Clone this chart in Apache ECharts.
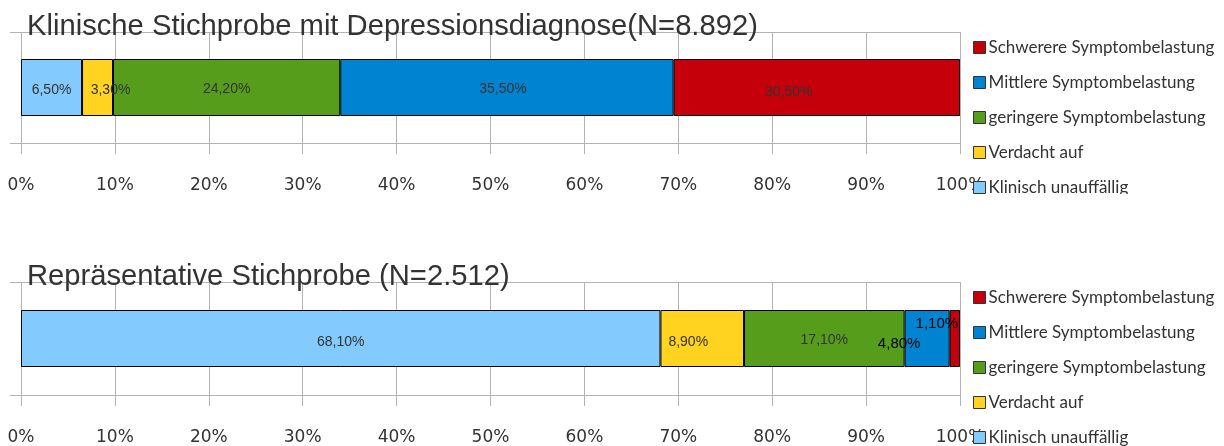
<!DOCTYPE html>
<html>
<head>
<meta charset="utf-8">
<script src="https://cdn.jsdelivr.net/npm/echarts@6/dist/echarts.min.js"></script>
<style>
  body { margin: 0; background: #fff; }
  #oben { position: absolute; left: 0; top: 0; width: 1224px; height: 194px; }
  #unten { position: absolute; left: 0; top: 250px; width: 1224px; height: 196px; }
</style>
</head>
<body>
<div id="oben"></div>
<div id="unten"></div>
<script>
// Kategorien (Reihenfolge im Balken von links nach rechts)
var kategorien = ['Klinisch unauffällig', 'Verdacht auf', 'geringere Symptombelastung', 'Mittlere Symptombelastung', 'Schwerere Symptombelastung'];
var farben = ['#83caff', '#ffd320', '#579d1c', '#0084d1', '#c5000b'];
// Werte in Prozent
var klinischWerte = [6.5, 3.3, 24.2, 35.5, 30.5];
var repraesentativWerte = [68.1, 8.9, 17.1, 4.8, 1.1];
var titelOben = 'Klinische Stichprobe mit Depressionsdiagnose(N=8.892)';
var titelUnten = 'Repräsentative Stichprobe (N=2.512)';

// kleine Verschiebungen der Beschriftungen wie im Original
var labelOben = [
  {offset: [0, 3]}, {offset: [13, 3]}, {offset: [0, 2]}, {offset: [-4, 2]}, {offset: [-28, 5]}
];
var labelUnten = [
  {offset: [0, 4]}, {offset: [-14, 4]}, {offset: [0, 2]}, {offset: [-28, 5], color: '#000', fontSize: 15}, {offset: [-18, -15], color: '#000', fontSize: 15}
];

function fmt(v) {
  return v.toFixed(2).replace('.', ',') + '%';
}

function baueOption(titel, werte, labelExtra) {
  var series = kategorien.map(function (name, i) {
    return {
      name: name,
      type: 'bar',
      stack: 'gesamt',
      barWidth: 57,
      data: [werte[i]],
      itemStyle: { color: farben[i], borderColor: '#000', borderWidth: 1 },
      label: Object.assign({
        show: true,
        position: 'inside',
        fontFamily: 'Liberation Sans',
        fontSize: 14,
        color: '#333',
        formatter: function (p) { return fmt(p.value); }
      }, labelExtra[i])
    };
  });
  return {
    animation: false,
    title: {
      text: titel,
      left: 22,
      top: 7,
      textStyle: { fontFamily: 'Liberation Sans', fontSize: 29.2, fontWeight: 'normal', color: '#333' }
    },
    legend: {
      data: kategorien.slice().reverse(),
      orient: 'vertical',
      left: 968,
      top: 34,
      height: 400,
      itemGap: 18,
      itemWidth: 12,
      itemHeight: 12,
      icon: 'rect',
      itemStyle: { borderColor: '#333', borderWidth: 1 },
      textStyle: { fontFamily: 'Lato', fontSize: 17, color: '#333', padding: [0, 0, 0, -2] }
    },
    grid: { left: 21, right: 264, top: 32, height: 114 },
    xAxis: {
      type: 'value',
      min: 0,
      max: 100,
      interval: 10,
      axisLine: { show: false },
      axisTick: { show: true, length: 11, lineStyle: { color: '#b3b3b3' } },
      splitLine: { lineStyle: { color: '#b3b3b3' } },
      axisLabel: {
        formatter: '{value}%',
        margin: 34,
        fontFamily: 'DejaVu Sans',
        fontSize: 17,
        color: '#333'
      }
    },
    yAxis: {
      type: 'category',
      data: [''],
      axisLine: { show: false },
      axisTick: { show: true, length: 11, lineStyle: { color: '#b3b3b3' } },
      splitLine: { show: true, lineStyle: { color: '#b3b3b3' } },
      axisLabel: { show: false }
    },
    series: series
  };
}

var chartOben = echarts.init(document.getElementById('oben'));
chartOben.setOption(baueOption(titelOben, klinischWerte, labelOben));
var chartUnten = echarts.init(document.getElementById('unten'));
chartUnten.setOption(baueOption(titelUnten, repraesentativWerte, labelUnten));
</script>
</body>
</html>
